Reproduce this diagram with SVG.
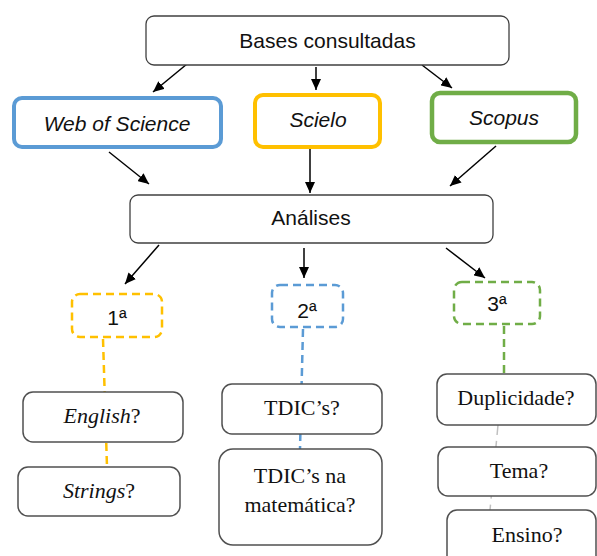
<svg xmlns="http://www.w3.org/2000/svg" width="597" height="556" viewBox="0 0 597 556">
<defs>
<marker id="ah" markerUnits="userSpaceOnUse" markerWidth="12" markerHeight="10" refX="11" refY="5" orient="auto">
<path d="M0,0 L11,5 L0,10 z" fill="#000"/>
</marker>
<style>
.box{fill:#fff;stroke:#404040;stroke-width:1.3}
.lbox{fill:#fff;stroke:#505050;stroke-width:1.5}
.sans{font-family:"Liberation Sans",Arial,sans-serif;font-size:21px;fill:#111}
.serif{font-family:"Liberation Serif","Times New Roman",serif;font-size:22px;fill:#111}
.it{font-style:italic}
.arr{stroke:#000;stroke-width:1.5;fill:none;marker-end:url(#ah)}
.dash{fill:#fff;stroke-width:2.5;stroke-dasharray:8 5}
.dl{fill:none;stroke-width:2.5;stroke-dasharray:8 5}
</style>
</defs>
<rect width="597" height="556" fill="#fff"/>
<g id="connectors">
<line class="arr" x1="187" y1="64" x2="153" y2="92"/>
<line class="arr" x1="316" y1="67" x2="316" y2="90"/>
<line class="arr" x1="422" y1="65" x2="452" y2="88"/>
<line class="arr" x1="109" y1="152" x2="149" y2="184"/>
<line class="arr" x1="310" y1="149" x2="310" y2="193"/>
<line class="arr" x1="496" y1="146" x2="450" y2="186"/>
<line class="arr" x1="159" y1="245" x2="125" y2="284"/>
<line class="arr" x1="304" y1="248" x2="304" y2="278"/>
<line class="arr" x1="446" y1="248" x2="485" y2="278"/>
<line class="dl" stroke="#FFC000" x1="103" y1="339" x2="107" y2="467"/>
<line class="dl" stroke="#5B9BD5" x1="303" y1="329" x2="300" y2="449"/>
<line class="dl" stroke="#70AD47" x1="504" y1="326" x2="504" y2="374"/>
<line fill="none" stroke="#c0c0c0" stroke-width="1.5" stroke-dasharray="10 6" x1="498" y1="425" x2="490" y2="510"/>
</g>
<g id="bases">
<rect class="box" x="146" y="16" width="363" height="49" rx="8"/>
<text class="sans" x="327.5" y="48" text-anchor="middle">Bases consultadas</text>
</g>
<g id="wos">
<rect x="14" y="98" width="207" height="49" rx="8" fill="#fff" stroke="#5B9BD5" stroke-width="4"/>
<text class="sans it" x="117" y="131" text-anchor="middle">Web of Science</text>
</g>
<g id="scielo">
<rect x="255" y="95" width="125" height="52" rx="8" fill="#fff" stroke="#FFC000" stroke-width="4"/>
<text class="sans it" x="318" y="127" text-anchor="middle">Scielo</text>
</g>
<g id="scopus">
<rect x="432" y="93" width="144" height="49" rx="8" fill="#fff" stroke="#70AD47" stroke-width="4.5"/>
<text class="sans it" x="504" y="125" text-anchor="middle">Scopus</text>
</g>
<g id="analises">
<rect class="box" x="130" y="195" width="363" height="48" rx="8"/>
<text class="sans" x="311" y="225" text-anchor="middle">Análises</text>
</g>
<g id="etapa1">
<rect class="dash" stroke="#FFC000" x="72" y="294" width="90" height="43" rx="8"/>
<text class="sans" x="117" y="325" text-anchor="middle">1ª</text>
</g>
<g id="etapa2">
<rect class="dash" stroke="#5B9BD5" x="272" y="285" width="71" height="42" rx="8"/>
<text class="sans" x="307" y="318" text-anchor="middle">2ª</text>
</g>
<g id="etapa3">
<rect class="dash" stroke="#70AD47" x="454" y="282" width="86" height="42" rx="8"/>
<text class="sans" x="497" y="311" text-anchor="middle">3ª</text>
</g>
<g id="english">
<rect class="lbox" x="23" y="392" width="160" height="50" rx="10"/>
<text class="serif" x="102" y="423" text-anchor="middle"><tspan class="it">English</tspan>?</text>
</g>
<g id="strings">
<rect class="lbox" x="18" y="467" width="162" height="49" rx="10"/>
<text class="serif" x="99" y="498" text-anchor="middle"><tspan class="it">Strings</tspan>?</text>
</g>
<g id="tdics">
<rect class="lbox" x="222" y="384" width="160" height="50" rx="10"/>
<text class="serif" x="302" y="415" text-anchor="middle">TDIC’s?</text>
</g>
<g id="tdics-mat">
<rect class="lbox" x="219" y="449" width="163" height="96" rx="14"/>
<text class="serif" x="300" y="483" text-anchor="middle">TDIC’s na</text>
<text class="serif" x="300" y="512" text-anchor="middle">matemática?</text>
</g>
<g id="duplicidade">
<rect class="lbox" x="437" y="374" width="159" height="51" rx="10"/>
<text class="serif" x="516" y="405" text-anchor="middle">Duplicidade?</text>
</g>
<g id="tema">
<rect class="lbox" x="438" y="447" width="158" height="49" rx="10"/>
<text class="serif" x="519" y="478" text-anchor="middle">Tema?</text>
</g>
<g id="ensino">
<rect class="lbox" x="447" y="510" width="149" height="60" rx="10"/>
<text class="serif" x="527" y="542" text-anchor="middle">Ensino?</text>
</g>
</svg>
